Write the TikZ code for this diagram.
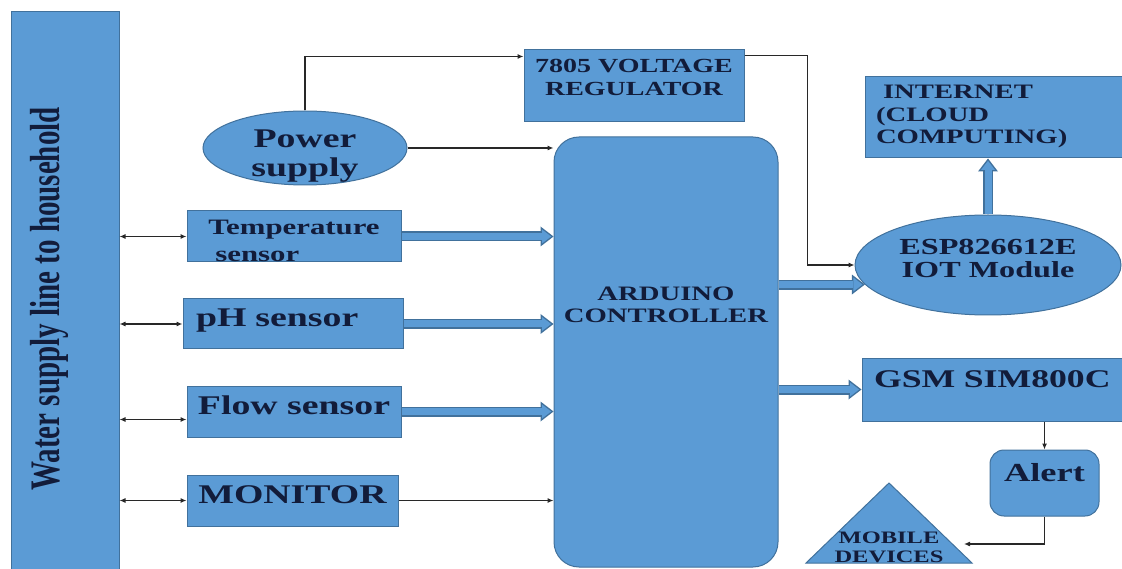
\documentclass[tikz,border=0pt]{standalone}
\usepackage{fontspec}
\setmainfont{Liberation Serif}[FakeStretch=1.4]
\newfontfamily\barfont{Liberation Serif}
\usepackage{graphicx}
\usepackage{xcolor}
\usetikzlibrary{shapes.geometric, arrows.meta, positioning}
\definecolor{boxblue}{RGB}{91,155,213}
\definecolor{edgeblue}{RGB}{65,113,156}
\definecolor{navy}{RGB}{18,28,58}
\definecolor{wirecol}{RGB}{40,40,40}

\begin{document}
\begin{tikzpicture}[x=1pt, y=-1pt,
    block/.style={draw=edgeblue, fill=boxblue, line width=1pt, text=navy, inner sep=0pt},
    bigtext/.style={font=\fontsize{27}{29}\selectfont\bfseries},
    midtext/.style={font=\fontsize{22}{27}\selectfont\bfseries},
    smalltext/.style={font=\fontsize{20.5}{22.5}\selectfont\bfseries},
    wire/.style={draw=wirecol, line width=1.1pt, -{Latex[length=6pt, width=5pt]}},
    biwire/.style={wire, {Latex[length=6pt, width=5pt]}-{Latex[length=6pt, width=5pt]}},
    fatarrow/.style={preaction={draw=edgeblue, line width=10pt, shorten >=0pt,
        -{Triangle[length=13pt, width=20pt, line width=0pt]}},
      draw=boxblue, line width=7pt, shorten >=2.4pt,
      -{Triangle[length=9.1pt, width=14pt, line width=0pt]}}]
    \clip (0,0) rectangle (1122,569);

    % water supply line
    \node[block, rotate=90, minimum width=574pt, minimum height=108pt,
      font=\barfont\fontsize{29}{31}\selectfont\bfseries, text height=0pt, text depth=12pt]
      (bar) at (65,299) {\scalebox{1}[1.45]{Water supply line to household}};

    % power part
    \node[block, ellipse, minimum width=204pt, minimum height=74pt, align=center,
      bigtext, inner xsep=0pt, inner ysep=-4pt, text height=58pt, text depth=0pt]
      (power) at (305,148) {Power\\supply};
    \node[block, minimum width=220pt, minimum height=72pt, align=center,
      font=\fontsize{20}{23}\selectfont\bfseries, text height=39pt, text depth=19pt]
      (reg) at (634,86) {7805 VOLTAGE\\REGULATOR};

    % sensors
    \node[block, minimum width=214pt, minimum height=51pt, align=left, midtext,
      text height=51pt, text depth=0pt] (temp) at (294,236.5) {Temperature\\\hspace*{7pt}sensor};
    \node[block, minimum width=220pt, minimum height=50pt, text width=194pt, align=left, bigtext,
      text height=19pt, text depth=14pt] (ph) at (293,324) {pH sensor};
    \node[block, minimum width=214pt, minimum height=51pt, bigtext,
      text height=19pt, text depth=14pt] (flow) at (294,411.5) {Flow sensor};
    \node[block, minimum width=211pt, minimum height=51pt, bigtext,
      text height=19pt, text depth=14pt] (monitor) at (292.5,500.5) {MONITOR};

    % controller
    \node[block, rounded corners=25pt, minimum width=224pt, minimum height=430pt, align=center,
      font=\fontsize{20.5}{22}\selectfont\bfseries, text height=0pt, text depth=58pt]
      (arduino) at (666,352) {ARDUINO\\CONTROLLER};

    % outputs
    \node[block, ellipse, minimum width=266pt, minimum height=100pt, align=center,
      font=\fontsize{23}{23}\selectfont\bfseries, text height=26pt, text depth=0pt]
      (esp) at (988,265) {ESP826612E\\IOT Module};
    \node[block, minimum width=290pt, minimum height=81pt, text width=268pt, align=left, smalltext,
      text height=15pt, text depth=52pt]
      (internet) at (1010,117.5) {\hspace*{7pt}INTERNET\\(CLOUD\\COMPUTING)};
    \node[block, minimum width=288pt, minimum height=63pt, text width=264pt, align=left,
      font=\fontsize{25.5}{28}\selectfont\bfseries, text height=18pt, text depth=23pt]
      (gsm) at (1006,389.5) {GSM SIM800C};
    \node[block, rounded corners=14pt, minimum width=109pt, minimum height=66pt,
      font=\fontsize{26}{28}\selectfont\bfseries, text height=18pt, text depth=22pt]
      (alert) at (1044.5,483) {Alert};
    \draw[block] (806,563) -- (889,483) -- (972,563) -- cycle;
    \node[text=navy, align=center, inner sep=0pt, font=\fontsize{17.5}{19}\selectfont\bfseries,
      text height=0pt, text depth=0pt] (mobile) at (889,562) {MOBILE\\DEVICES};
    \coordinate (mobtip) at (964,544);

    % power wiring
    \draw[wire] (power.north) |- ([yshift=-7pt]reg.north west);
    \draw[wire] (power.east) -- (power.east -| arduino.west);
    \draw[wire] ([yshift=-6pt]reg.north east) -- ++(63,0) |- (esp.west);

    % sensors on the water line
    \foreach \s in {temp, ph, monitor}
      \draw[biwire] (\s.west -| bar.south) -- (\s.west);
    \draw[biwire] ([yshift=-8pt]flow.west -| bar.south) -- ([yshift=-8pt]flow.west);

    % sensors into the controller
    \foreach \s in {temp, ph, flow}
      \draw[fatarrow] (\s.east) -- (\s.east -| arduino.west);
    \draw[wire] (monitor.east) -- (monitor.east -| arduino.west);

    % controller outputs
    \draw[fatarrow] (arduino.east |- esp.189) -- (esp.189);
    \draw[fatarrow] (esp.north) -- (esp.north |- internet.south);
    \draw[fatarrow] (arduino.east |- gsm.west) -- (gsm.west);
    \draw[wire] (gsm.south -| alert.north) -- (alert.north);
    \draw[wire] (alert.south) |- (mobtip);
\end{tikzpicture}
\end{document}
